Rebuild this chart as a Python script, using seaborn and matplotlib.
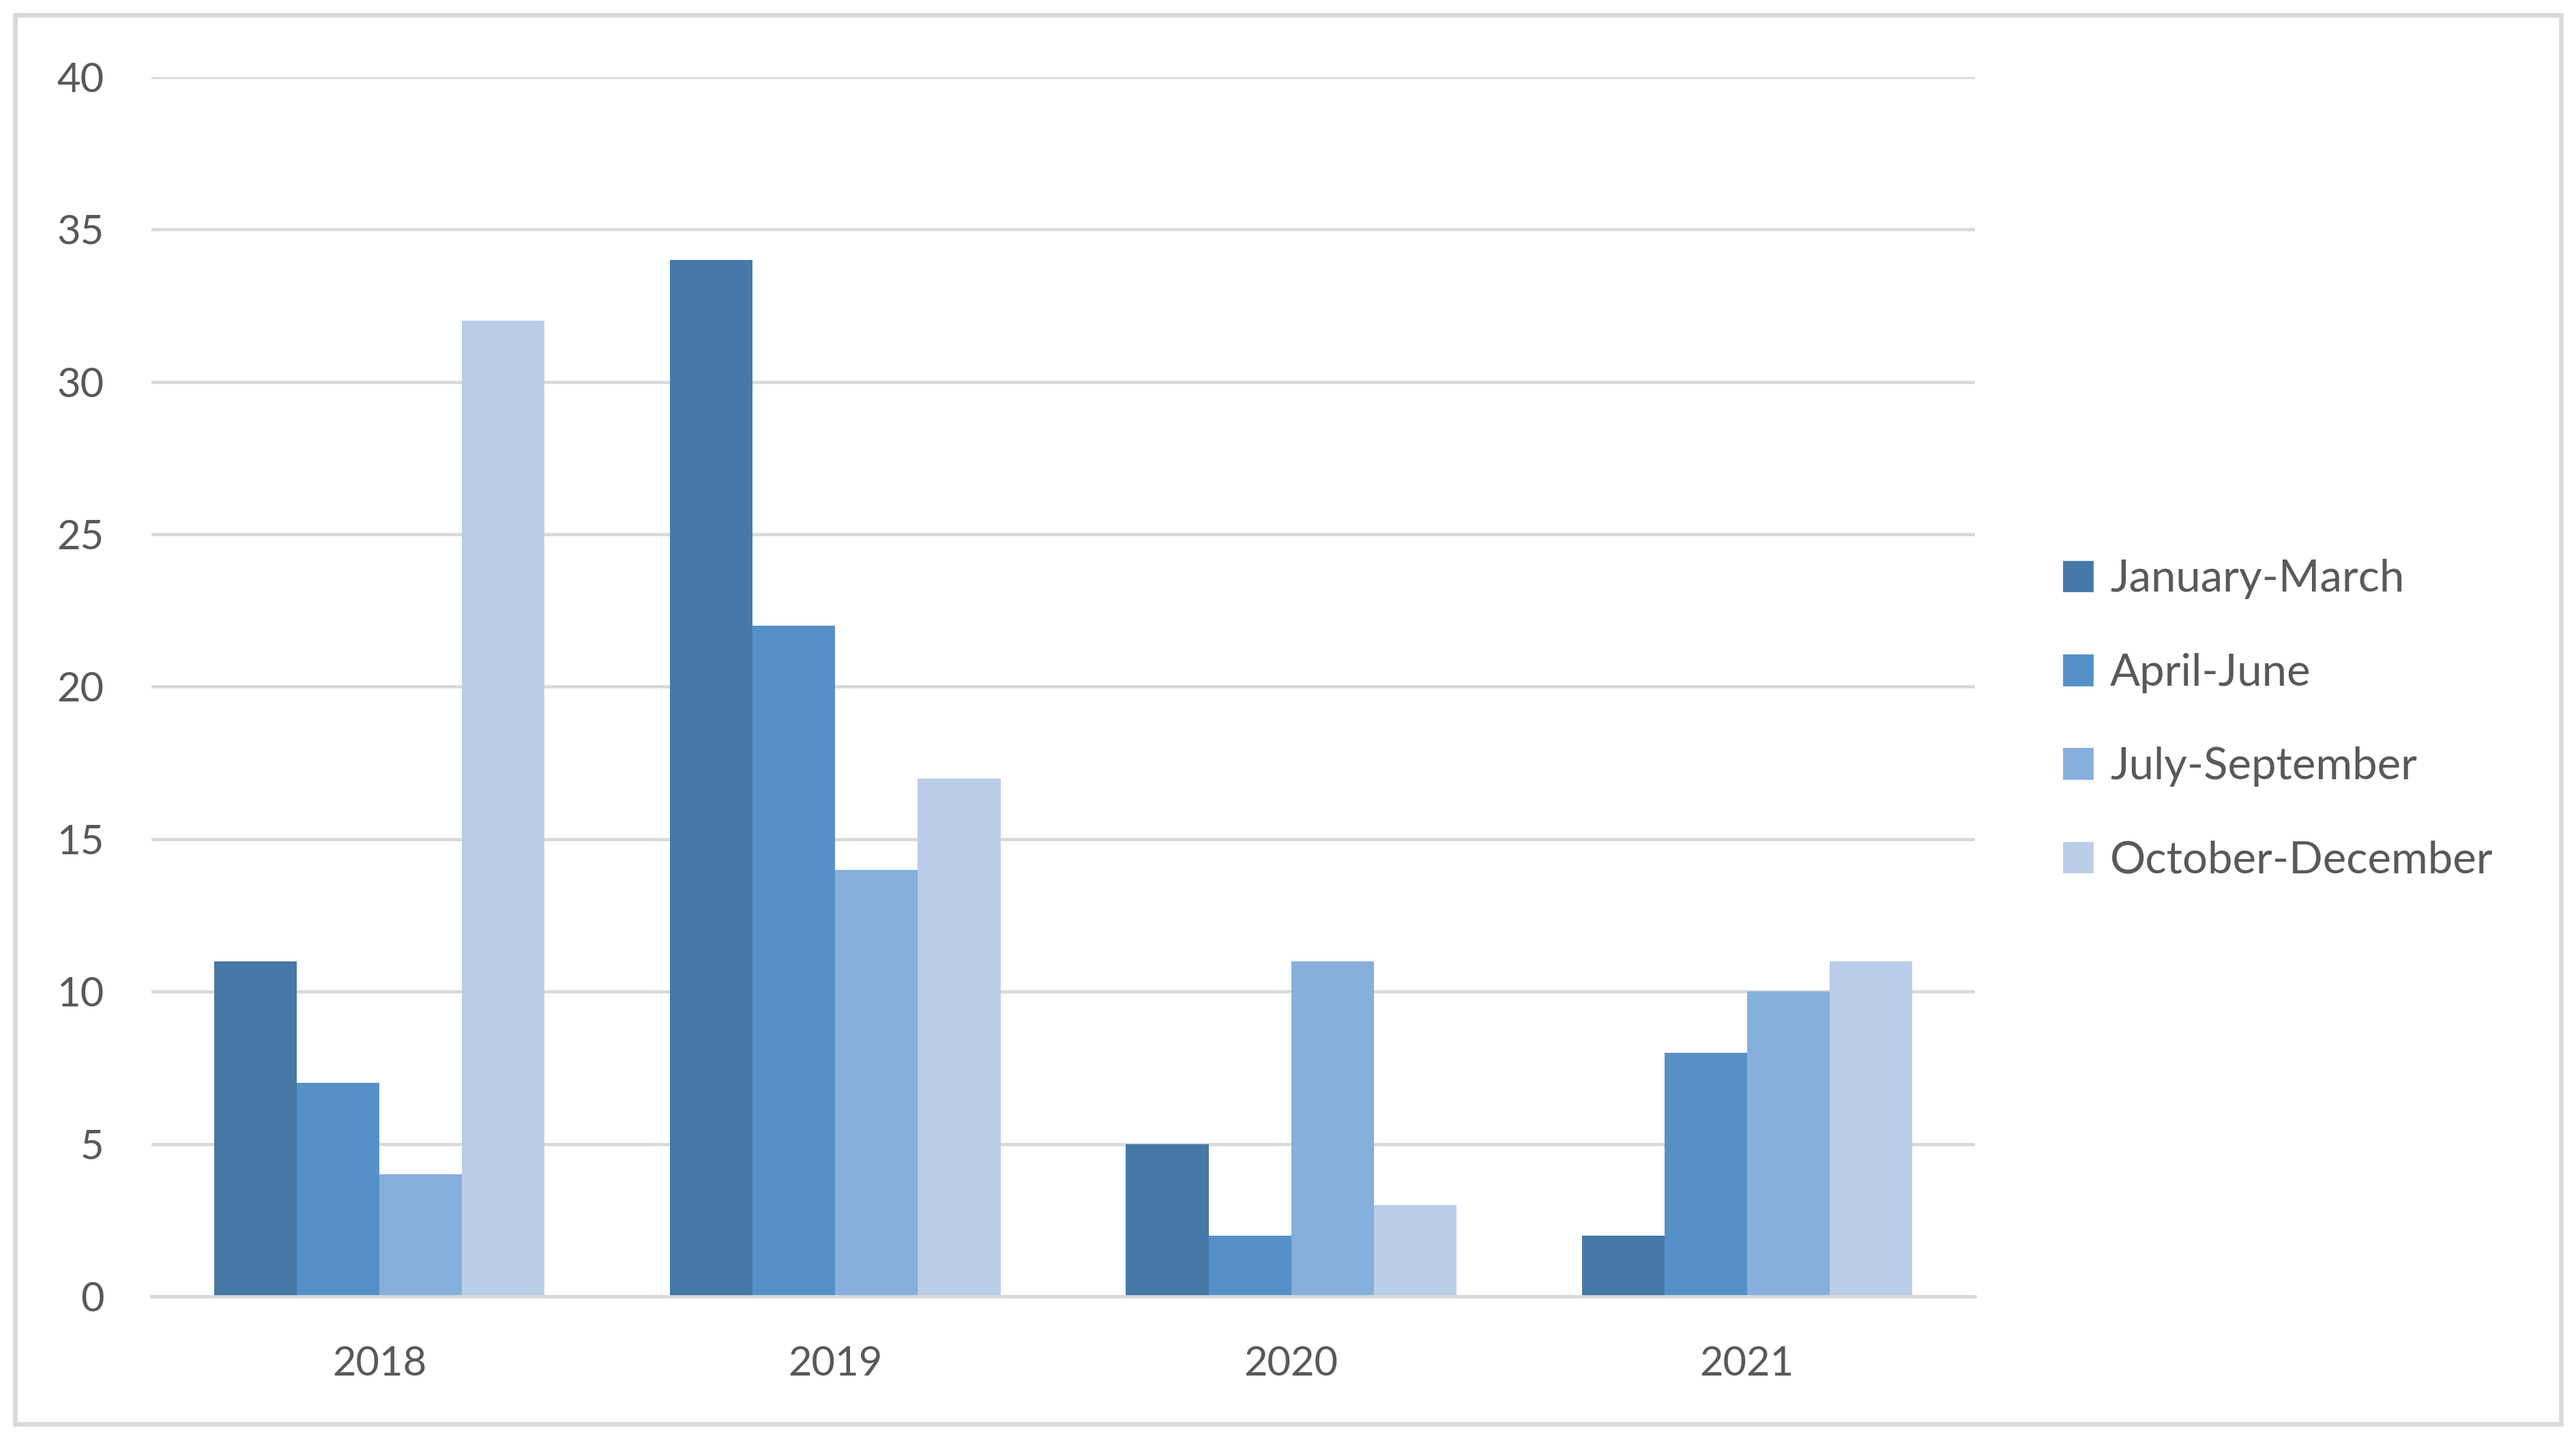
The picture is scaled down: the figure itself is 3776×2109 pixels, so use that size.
import numpy as np
import pandas as pd
import matplotlib
matplotlib.use("Agg")
import matplotlib.pyplot as plt
from matplotlib.patches import Rectangle
from matplotlib.ticker import FixedLocator
import seaborn as sns

years = ["2018", "2019", "2020", "2021"]
quarters = ["January-March", "April-June", "July-September", "October-December"]
jan_mar = [11, 34, 5, 2]
apr_jun = [7, 22, 2, 8]
jul_sep = [4, 14, 11, 10]
oct_dec = [32, 17, 3, 11]
colors = ["#4678A8", "#5591C7", "#86AFDB", "#B9CDE8"]

sns.set_style("white")
plt.rcParams['font.family'] = ['Lato', 'DejaVu Sans']

rows = []
for q, vals in zip(quarters, [jan_mar, apr_jun, jul_sep, oct_dec]):
    for y, v in zip(years, vals):
        rows.append(dict(year=y, quarter=q, count=v))
df = pd.DataFrame(rows)

W, H, DPI = 3776, 2109, 200
fig = plt.figure(figsize=(W / DPI, H / DPI), dpi=DPI)
ax = fig.add_axes([222 / W, 1 - 1900 / H, (2895 - 222) / W, (1900 - 113) / H])

sns.barplot(data=df, x="year", y="count", hue="quarter", order=years,
            hue_order=quarters, palette=colors, width=0.725, gap=0,
            saturation=1, linewidth=0, ax=ax, legend=False)

grid_c = "#D9D9D9"
text_c = "#595959"
ax.set_ylim(0, 40)
ax.set_xlim(-0.5, 3.5)
ax.set_yticks(np.arange(0, 41, 5))
ax.yaxis.grid(True, color=grid_c, linewidth=1.7)
ax.set_axisbelow(True)
for s in ["top", "right", "left"]:
    ax.spines[s].set_visible(False)
ax.spines["bottom"].set_color(grid_c)
ax.spines["bottom"].set_linewidth(1.7)
ax.set_xlabel("")
ax.set_ylabel("")
ax.tick_params(axis="y", length=0, pad=25, labelsize=21.5, labelcolor=text_c)
ax.tick_params(axis="x", which="major", length=0, pad=26, labelsize=21.5, labelcolor=text_c)
ax.xaxis.set_minor_locator(FixedLocator([-0.5, 0.5, 1.5, 2.5, 3.5]))
ax.tick_params(axis="x", which="minor", length=7, width=1.7, color=grid_c, direction="out")

handles = [Rectangle((0, 0), 1, 1, color=c) for c in colors]
fig.legend(handles, quarters, loc="center left", bbox_to_anchor=(2966 / W, 1 - 1055 / H),
           frameon=False, fontsize=23.5, labelcolor=text_c, handlelength=0.65,
           handleheight=0.65, handletextpad=0.4, labelspacing=1.2)

fig.patches.append(Rectangle((22 / W, 22 / H), 1 - 44 / W, 1 - 44 / H,
                             transform=fig.transFigure, fill=False,
                             edgecolor=grid_c, linewidth=2.4))

fig.savefig("out.png", dpi=DPI, facecolor="white")
